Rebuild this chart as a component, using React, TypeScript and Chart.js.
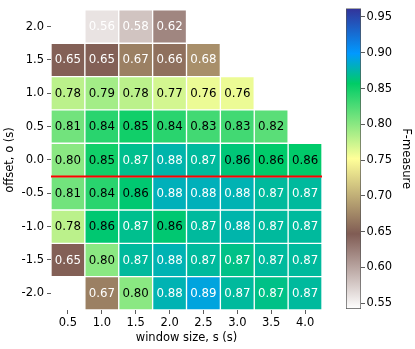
import React, { useEffect, useRef } from "react";
import { Chart, registerables } from "chart.js";

Chart.register(...registerables);

const X_LABELS = ["0.5", "1.0", "1.5", "2.0", "2.5", "3.0", "3.5", "4.0"];
const Y_ROWS = [2.0, 1.5, 1.0, 0.5, 0.0, -0.5, -1.0, -1.5, -2.0];

const ROW_P20 = [null, 0.56, 0.58, 0.62, null, null, null, null];
const ROW_P15 = [0.65, 0.65, 0.67, 0.66, 0.68, null, null, null];
const ROW_P10 = [0.78, 0.79, 0.78, 0.77, 0.76, 0.76, null, null];
const ROW_P05 = [0.81, 0.84, 0.85, 0.84, 0.83, 0.83, 0.82, null];
const ROW_000 = [0.80, 0.85, 0.868, 0.876, 0.872, 0.862, 0.858, 0.858];
const ROW_M05 = [0.81, 0.84, 0.86, 0.88, 0.88, 0.878, 0.872, 0.872];
const ROW_M10 = [0.78, 0.86, 0.868, 0.86, 0.872, 0.876, 0.872, 0.872];
const ROW_M15 = [0.65, 0.80, 0.872, 0.878, 0.872, 0.866, 0.872, 0.872];
const ROW_M20 = [null, 0.67, 0.80, 0.878, 0.89, 0.872, 0.866, 0.872];

const VALUES = [ROW_P20, ROW_P15, ROW_P10, ROW_P05, ROW_000, ROW_M05, ROW_M10, ROW_M15, ROW_M20];

const CB_TICKS = [0.55, 0.6, 0.65, 0.7, 0.75, 0.8, 0.85, 0.9, 0.95];
const V_MIN = 0.542;
const V_MAX = 0.962;
const SPLIT_LINE = -0.25;

const FONT = "'DejaVu Sans', sans-serif";

// matplotlib "terrain" stops; used reversed
const TERRAIN: [number, number[]][] = [
  [0.0, [0.2, 0.2, 0.6]],
  [0.15, [0.0, 0.6, 1.0]],
  [0.25, [0.0, 0.8, 0.4]],
  [0.5, [1.0, 1.0, 0.6]],
  [0.75, [0.5, 0.36, 0.33]],
  [1.0, [1.0, 1.0, 1.0]],
];

function terrainAt(t: number): string {
  t = Math.max(0, Math.min(1, t));
  for (let i = 0; i < TERRAIN.length - 1; i++) {
    const [t0, c0] = TERRAIN[i];
    const [t1, c1] = TERRAIN[i + 1];
    if (t >= t0 && t <= t1) {
      const f = (t - t0) / (t1 - t0);
      const c = c0.map((v, k) => Math.round((v + (c1[k] - v) * f) * 255));
      return `rgb(${c[0]},${c[1]},${c[2]})`;
    }
  }
  return "rgb(255,255,255)";
}

function cmap(v: number): string {
  const n = (v - V_MIN) / (V_MAX - V_MIN);
  return terrainAt(1 - n);
}

const annotPlugin = {
  id: "annot",
  afterDatasetsDraw(chart: any) {
    const ctx = chart.ctx;
    const y = chart.scales.y;
    const yy = y.getPixelForValue(SPLIT_LINE);
    ctx.save();
    ctx.strokeStyle = "#ff0000";
    ctx.lineWidth = 2;
    ctx.beginPath();
    ctx.moveTo(chart.chartArea.left, yy);
    ctx.lineTo(chart.chartArea.right, yy);
    ctx.stroke();
    ctx.font = `11.8px ${FONT}`;
    ctx.textAlign = "center";
    ctx.textBaseline = "middle";
    chart.data.datasets.forEach((ds: any, di: number) => {
      const meta = chart.getDatasetMeta(di);
      meta.data.forEach((el: any, i: number) => {
        const v = VALUES[di][i];
        if (v == null) return;
        const r = Math.round(v * 100) / 100;
        ctx.fillStyle = r < 0.7 || r >= 0.87 ? "#ffffff" : "#000000";
        ctx.fillText(r.toFixed(2), el.x, (el.y + el.base) / 2 + 0.5);
      });
    });
    ctx.restore();
  },
};

export default function App() {
  const mainRef = useRef<HTMLCanvasElement>(null);
  const cbRef = useRef<HTMLCanvasElement>(null);

  useEffect(() => {
    const tickFont = { family: FONT, size: 11.5 };
    const main = new Chart(mainRef.current!, {
      type: "bar",
      data: {
        labels: X_LABELS,
        datasets: Y_ROWS.map((r, ri) => ({
          label: `offset ${r.toFixed(1)}`,
          data: VALUES[ri].map((v) => (v == null ? null : [r - 0.25, r + 0.25])) as any,
          backgroundColor: VALUES[ri].map((v) => (v == null ? "rgba(0,0,0,0)" : cmap(v))),
          borderColor: "#ffffff",
          borderWidth: 1,
          borderSkipped: false,
          grouped: false,
          barPercentage: 1,
          categoryPercentage: 1,
        })),
      },
      options: {
        responsive: false,
        animation: false,
        layout: { padding: { left: 0, top: 4, right: 93, bottom: 0 } },
        plugins: { legend: { display: false }, tooltip: { enabled: false } },
        scales: {
          x: {
            type: "category",
            offset: true,
            grid: { offset: false, drawOnChartArea: false, tickLength: 4, color: "#333", lineWidth: 0.8 },
            border: { display: false },
            ticks: { color: "#000", font: tickFont, padding: 2, maxRotation: 0, autoSkip: false },
            title: {
              display: true,
              text: "window size, s (s)",
              color: "#000",
              font: tickFont,
              padding: { top: 0, bottom: 4 },
            },
            afterFit: (s: any) => {
              s.height = 39;
            },
          },
          y: {
            type: "linear",
            min: -2.25,
            max: 2.25,
            afterBuildTicks: (s: any) => {
              s.ticks = Y_ROWS.map((v) => ({ value: v }));
            },
            grid: { drawOnChartArea: false, tickLength: 4, color: "#333", lineWidth: 0.8 },
            border: { display: false },
            ticks: {
              color: "#000",
              font: tickFont,
              padding: 3,
              callback: (v: any) => Number(v).toFixed(1),
            },
            title: {
              display: true,
              text: "offset, o (s)",
              color: "#000",
              font: tickFont,
              padding: { top: 3, bottom: 0 },
            },
            afterFit: (s: any) => {
              s.width = 51;
            },
          },
        },
      } as any,
      plugins: [annotPlugin],
    });

    const cb = new Chart(cbRef.current!, {
      type: "bar",
      data: {
        labels: ["F-measure"],
        datasets: [
          {
            label: "colorbar",
            data: [[V_MIN, V_MAX]] as any,
            backgroundColor: (c: any) => {
              const chart = c.chart;
              const area = chart.chartArea;
              if (!area) return "#fff";
              const y = chart.scales.y;
              const g = chart.ctx.createLinearGradient(0, y.getPixelForValue(V_MIN), 0, y.getPixelForValue(V_MAX));
              TERRAIN.forEach(([t]) => {
                g.addColorStop(1 - t, terrainAt(t));
              });
              return g;
            },
            borderColor: "#555",
            borderWidth: 1,
            borderSkipped: false,
            barPercentage: 1,
            categoryPercentage: 1,
          },
        ],
      },
      options: {
        responsive: false,
        animation: false,
        layout: { padding: { left: 346, top: 3, right: 0, bottom: 40 } },
        plugins: { legend: { display: false }, tooltip: { enabled: false } },
        scales: {
          x: { display: false },
          y: {
            position: "right",
            min: V_MIN,
            max: V_MAX,
            afterBuildTicks: (s: any) => {
              s.ticks = CB_TICKS.map((v) => ({ value: v }));
            },
            grid: { drawOnChartArea: false, tickLength: 4, color: "#333", lineWidth: 0.8 },
            border: { display: false },
            ticks: {
              color: "#000",
              font: tickFont,
              padding: 1.5,
              callback: (v: any) => Number(v).toFixed(2),
            },
            title: {
              display: true,
              text: "F-measure",
              color: "#000",
              font: tickFont,
              padding: { top: 2, bottom: 0 },
            },
            afterFit: (s: any) => {
              s.width = 54;
            },
          },
        },
      } as any,
    });

    return () => {
      main.destroy();
      cb.destroy();
    };
  }, []);

  return (
    <div style={{ position: "absolute", left: 0, top: 0, width: 415, height: 349, background: "#fff" }}>
      <canvas ref={mainRef} width={415} height={349} style={{ position: "absolute", left: 0, top: 0 }} />
      <canvas ref={cbRef} width={415} height={349} style={{ position: "absolute", left: 0, top: 0 }} />
    </div>
  );
}
